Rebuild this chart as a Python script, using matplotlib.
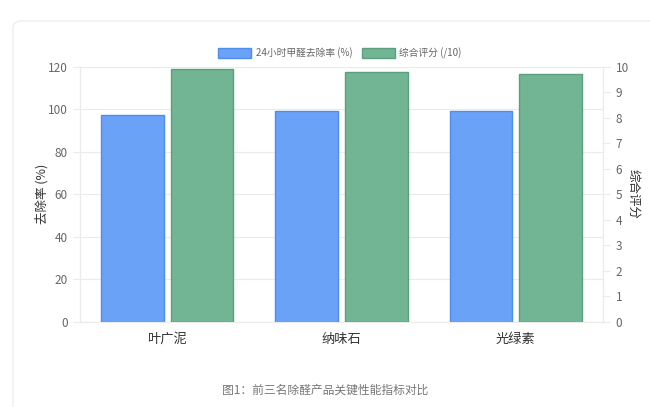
"""前三名除醛产品关键性能指标对比."""
import numpy as np
from matplotlib import pyplot as plt
from matplotlib.patches import FancyBboxPatch, Patch

plt.rcParams["font.family"] = ["Noto Sans CJK SC", "DejaVu Sans"]

products = ["叶广泥", "纳味石", "光绿素"]
removal_rate = [97.5, 99.0, 99.0]
score = [9.9, 9.8, 9.7]

BLUE = "#6aa2f8"
BLUE_EDGE = "#4f8ded"
GREEN = "#72b595"
GREEN_EDGE = "#5aa07e"
GRID = "#ebebeb"
TEXT = "#666666"

fig = plt.figure(figsize=(6.5, 4.07), dpi=100)

# card background
card = FancyBboxPatch(
    (13 / 650, -0.05), 0.99, 1 - 21 / 407 + 0.05,
    boxstyle="round,pad=0,rounding_size=0.015",
    transform=fig.transFigure, facecolor="white", edgecolor="#eeeeee", lw=1,
    zorder=-1,
)
fig.patches.append(card)

ax = fig.add_axes([80 / 650, 85 / 407, 523 / 650, 255.3 / 407])
ax2 = ax.twinx()
ax.patch.set_alpha(0)
ax2.patch.set_alpha(0)

x = np.arange(len(products))
w = 0.36
ax.bar(x - 0.2, removal_rate, w, color=BLUE, edgecolor=BLUE_EDGE, lw=1, zorder=3)
ax2.bar(x + 0.2, score, w, color=GREEN, edgecolor=GREEN_EDGE, lw=1, zorder=3)

ax.set_xlim(-0.5, len(products) - 0.5)
ax.set_ylim(0, 120)
ax.set_yticks(range(0, 121, 20))
ax2.set_ylim(0, 10)
ax2.set_yticks(range(0, 11))

ax.set_xticks(x)
ax.set_xticklabels(products, fontsize=9.5, color="#333333")
ax.tick_params(axis="x", length=0, pad=8)
ax.tick_params(axis="y", length=5, color=GRID, labelsize=8.5, labelcolor=TEXT, pad=4)
ax2.tick_params(axis="y", length=5, color=GRID, labelsize=8.5, labelcolor=TEXT, pad=4)

ax.grid(axis="y", color=GRID, lw=0.8, zorder=0)
for a in (ax, ax2):
    a.spines["top"].set_visible(False)
    for side in ("left", "right", "bottom"):
        a.spines[side].set_color(GRID)

ax.set_ylabel("去除率 (%)", fontsize=9, color="#333333", labelpad=-1)
ax2.set_ylabel("综合评分", fontsize=9, color="#333333", rotation=270, labelpad=8)

handles = [
    Patch(facecolor=BLUE, edgecolor=BLUE_EDGE, label="24小时甲醛去除率 (%)"),
    Patch(facecolor=GREEN, edgecolor=GREEN_EDGE, label="综合评分 (/10)"),
]
fig.legend(
    handles=handles, loc="center", bbox_to_anchor=(340 / 650, 1 - 53 / 407),
    ncol=2, frameon=False, fontsize=7, labelcolor=TEXT,
    handlelength=3.4, handleheight=1.3, columnspacing=0.9, handletextpad=0.5,
)

fig.text(0.5, 1 - 390 / 407, "图1：前三名除醛产品关键性能指标对比",
         ha="center", va="center", fontsize=8.5, color="#777777")

fig.savefig("out.png", dpi=100)
